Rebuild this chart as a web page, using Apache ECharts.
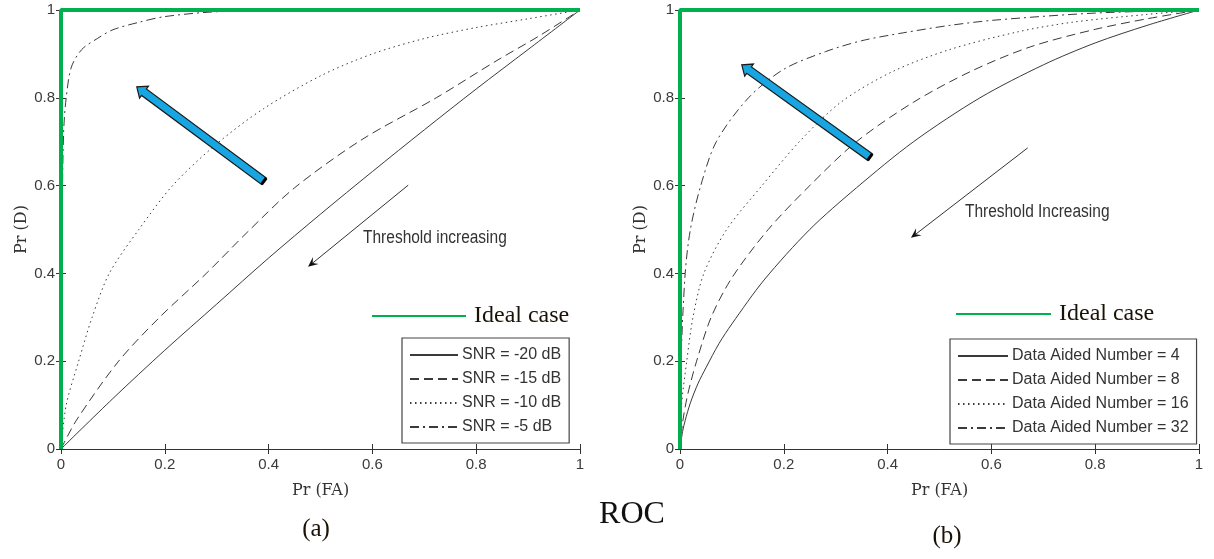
<!DOCTYPE html>
<html>
<head>
<meta charset="utf-8">
<script src="https://cdn.jsdelivr.net/npm/echarts@6/dist/echarts.min.js"></script>
<style>html,body{margin:0;padding:0;background:#fff;}#chart{width:1214px;height:559px;}</style>
</head>
<body>
<div id="chart"></div>
<script>
// ---------- data ----------
const ticks = [0, 0.2, 0.4, 0.6, 0.8, 1];
const idealCase = [[0, 0], [0, 1], [1, 1]];

// (a) SNR curves  [Pr(FA), Pr(D)]
const snrNames = ['SNR = -20 dB', 'SNR = -15 dB', 'SNR = -10 dB', 'SNR = -5 dB'];
const snrM20 = [[0,0],[0.1,0.115],[0.2,0.225],[0.3,0.33],[0.4,0.435],[0.5,0.535],[0.6,0.632],[0.7,0.727],[0.8,0.82],[0.9,0.91],[1,1]];
const snrM15 = [[0,0],[0.03,0.066],[0.111,0.2],[0.19,0.3],[0.28,0.4],[0.36,0.495],[0.45,0.595],[0.58,0.705],[0.723,0.8],[0.84,0.885],[0.92,0.94],[1,1]];
const snrM10 = [[0,0],[0.01,0.1],[0.034,0.2],[0.06,0.3],[0.093,0.4],[0.15,0.5],[0.215,0.6],[0.3,0.695],[0.39,0.775],[0.5,0.85],[0.6,0.9],[0.7,0.935],[0.8,0.96],[0.9,0.98],[1,1]];
const snrM5  = [[0,0],[0.002,0.5],[0.005,0.72],[0.01,0.8],[0.02,0.87],[0.04,0.91],[0.07,0.935],[0.1,0.955],[0.15,0.972],[0.2,0.985],[0.3,0.996],[0.5,1],[1,1]];

// (b) Data Aided Number curves
const danNames = ['Data Aided Number = 4', 'Data Aided Number = 8', 'Data Aided Number = 16', 'Data Aided Number = 32'];
const dan4  = [[0,0],[0.005,0.04],[0.01,0.065],[0.02,0.105],[0.035,0.15],[0.05,0.185],[0.075,0.24],[0.1,0.285],[0.162,0.385],[0.25,0.5],[0.34,0.595],[0.45,0.7],[0.578,0.8],[0.7,0.875],[0.8,0.925],[0.9,0.965],[1,1]];
const dan8  = [[0,0],[0.005,0.06],[0.015,0.125],[0.032,0.2],[0.06,0.3],[0.1,0.39],[0.17,0.5],[0.25,0.6],[0.34,0.7],[0.45,0.79],[0.56,0.86],[0.675,0.916],[0.8,0.956],[0.9,0.98],[1,1]];
const dan16 = [[0,0],[0.003,0.1],[0.013,0.2],[0.025,0.3],[0.046,0.4],[0.09,0.5],[0.158,0.6],[0.23,0.7],[0.31,0.79],[0.41,0.86],[0.52,0.91],[0.65,0.95],[0.755,0.972],[0.9,0.99],[1,1]];
const dan32 = [[0,0],[0.002,0.2],[0.01,0.4],[0.02,0.5],[0.04,0.6],[0.07,0.7],[0.132,0.8],[0.2,0.865],[0.28,0.905],[0.35,0.93],[0.43,0.948],[0.52,0.965],[0.607,0.977],[0.8,0.993],[1,1]];

// annotations (data coordinates): [x0, y0, x1(head), y1(head)]
const blueArrowA = [[0.391, 0.61, 0.146, 0.825]];
const blueArrowB = [[0.366, 0.665, 0.119, 0.875]];
const thinArrowA = [[0.669, 0.601, 0.476, 0.415]];
const thinArrowB = [[0.67, 0.686, 0.445, 0.481]];
const noteA = [[0.582, 0.48, 'Threshold increasing']];
const noteB = [[0.549, 0.54, 'Threshold Increasing']];

// ---------- styles ----------
const curveColor = '#3a3a3a';
const green = '#00b04f';
const dashTypes = ['solid', [9, 5], [1.5, 3.5], [9, 4, 2, 4]];
const sansFont = '"Liberation Sans", Arial, sans-serif';
const serif = '"Liberation Serif", "Times New Roman", serif';

function xAxes(grid) {
  const base = {
    type: 'value', gridIndex: grid, min: 0, max: 1, interval: 0.2,
    splitLine: { show: false },
    axisLine: { show: true, lineStyle: { color: '#333', width: 1 } },
    axisTick: { show: true, inside: true, length: 5, lineStyle: { color: '#333' } }
  };
  return [
    Object.assign({}, base, {
      position: 'bottom',
      axisLabel: { color: '#3a3a3a', fontFamily: sansFont, fontSize: 15, margin: 8 },
      name: 'Pr (FA)', nameLocation: 'middle', nameGap: 34,
      nameTextStyle: { fontFamily: '"DejaVu Serif", serif', fontSize: 16, color: '#333' }
    }),
    Object.assign({}, base, { position: 'top', axisLabel: { show: false } })
  ];
}
function yAxes(grid) {
  const base = {
    type: 'value', gridIndex: grid, min: 0, max: 1, interval: 0.2,
    splitLine: { show: false },
    axisLine: { show: true, lineStyle: { color: '#333', width: 1 } },
    axisTick: { show: true, inside: true, length: 5, lineStyle: { color: '#333' } }
  };
  return [
    Object.assign({}, base, {
      position: 'left',
      axisLabel: { color: '#3a3a3a', fontFamily: sansFont, fontSize: 15, margin: 6 },
      name: 'Pr (D)', nameLocation: 'middle', nameGap: 26,
      nameTextStyle: { fontFamily: '"DejaVu Serif", serif', fontSize: 16, color: '#333' }
    }),
    Object.assign({}, base, { position: 'right', axisLabel: { show: false } })
  ];
}

function curve(name, data, i, xi, yi) {
  return {
    type: 'line', name: name, data: data, xAxisIndex: xi, yAxisIndex: yi,
    symbol: 'none', smooth: 0.3, z: 3,
    lineStyle: { color: curveColor, width: 1, type: dashTypes[i] },
    itemStyle: { color: curveColor }
  };
}

function blueArrow(params, api) {
  const p0 = api.coord([api.value(0), api.value(1)]);
  const p1 = api.coord([api.value(2), api.value(3)]);
  const dx = p1[0] - p0[0], dy = p1[1] - p0[1];
  const L = Math.sqrt(dx * dx + dy * dy);
  const ux = dx / L, uy = dy / L, nx = -uy, ny = ux;
  const w = 4, hw = 7.5, hl = 9;
  const bx = p1[0] - ux * hl, by = p1[1] - uy * hl;
  const pts = [
    [p0[0] + nx * w, p0[1] + ny * w],
    [bx + nx * w, by + ny * w],
    [bx + nx * hw, by + ny * hw],
    p1,
    [bx - nx * hw, by - ny * hw],
    [bx - nx * w, by - ny * w],
    [p0[0] - nx * w, p0[1] - ny * w]
  ];
  return {
    type: 'group', children: [
      { type: 'polygon', shape: { points: pts }, style: { fill: '#18a6e2', stroke: '#1b1b1b', lineWidth: 1.2 } },
      { type: 'line', shape: { x1: p0[0] + nx * w, y1: p0[1] + ny * w, x2: p0[0] - nx * w, y2: p0[1] - ny * w }, style: { stroke: '#000', lineWidth: 3 } }
    ]
  };
}
function thinArrow(params, api) {
  const p0 = api.coord([api.value(0), api.value(1)]);
  const p1 = api.coord([api.value(2), api.value(3)]);
  const dx = p1[0] - p0[0], dy = p1[1] - p0[1];
  const L = Math.sqrt(dx * dx + dy * dy);
  const ux = dx / L, uy = dy / L, nx = -uy, ny = ux;
  const hl = 10, hw = 4.5, notch = 6;
  const bx = p1[0] - ux * hl, by = p1[1] - uy * hl;
  return {
    type: 'group', children: [
      { type: 'line', shape: { x1: p0[0], y1: p0[1], x2: p1[0] - ux * notch, y2: p1[1] - uy * notch }, style: { stroke: '#333', lineWidth: 1 } },
      { type: 'polygon', shape: { points: [p1, [bx + nx * hw, by + ny * hw], [p1[0] - ux * notch, p1[1] - uy * notch], [bx - nx * hw, by - ny * hw]] }, style: { fill: '#111' } }
    ]
  };
}
function noteText(params, api) {
  const p = api.coord([api.value(0), api.value(1)]);
  return {
    type: 'text', x: p[0], y: p[1], scaleX: 0.86,
    style: { text: String(api.value(2)), font: '18px ' + sansFont, fill: '#333', align: 'left', verticalAlign: 'middle' }
  };
}

const series = [];
[snrM20, snrM15, snrM10, snrM5].forEach((d, i) => series.push(curve(snrNames[i], d, i, 0, 0)));
[dan4, dan8, dan16, dan32].forEach((d, i) => series.push(curve(danNames[i], d, i, 2, 2)));
[0, 2].forEach(ax => series.push({
  type: 'line', name: 'Ideal case', data: idealCase, xAxisIndex: ax, yAxisIndex: ax,
  symbol: 'none', clip: false, z: 6,
  lineStyle: { color: green, width: 4 }, itemStyle: { color: green }
}));
[[blueArrowA, 0, blueArrow], [blueArrowB, 2, blueArrow], [thinArrowA, 0, thinArrow], [thinArrowB, 2, thinArrow], [noteA, 0, noteText], [noteB, 2, noteText]].forEach(s => series.push({
  type: 'custom', data: s[0], xAxisIndex: s[1], yAxisIndex: s[1], renderItem: s[2], z: 7, silent: true
}));

const boxLegend = {
  orient: 'vertical', selectedMode: false, backgroundColor: '#fff',
  borderColor: '#444', borderWidth: 1.2, itemGap: 8, itemHeight: 16,
  itemStyle: { opacity: 0 },
  textStyle: { fontFamily: sansFont, fontSize: 16, color: '#333', padding: [0, 0, 0, -1] }
};
const idealLegend = {
  orient: 'vertical', selectedMode: false, data: ['Ideal case'], padding: 0,
  itemHeight: 14, itemStyle: { opacity: 0 },
  textStyle: { fontFamily: serif, fontSize: 24, color: '#1a1206', padding: [0, 0, 0, 3] }
};

const option = {
  backgroundColor: '#fff',
  animation: false,
  grid: [
    { left: 61, top: 10, width: 519, height: 439, show: false },
    { left: 680, top: 10, width: 519, height: 439, show: false }
  ],
  xAxis: [].concat(xAxes(0), xAxes(1)),
  yAxis: [].concat(yAxes(0), yAxes(1)),
  legend: [
    Object.assign({}, boxLegend, { data: snrNames, left: 402, top: 338, itemWidth: 48, padding: [9, 8, 8, 7] }),
    Object.assign({}, boxLegend, { data: danNames, left: 950, top: 339, itemWidth: 50, padding: [9, 8, 8, 7] }),
    Object.assign({}, idealLegend, { left: 371, top: 304, itemWidth: 94 }),
    Object.assign({}, idealLegend, { left: 955, top: 302, itemWidth: 95 })
  ],
  graphic: [
    { type: 'text', x: 316, y: 529, style: { text: '(a)', font: '25px ' + serif, fill: '#1a1206', align: 'center', verticalAlign: 'middle' } },
    { type: 'text', x: 947, y: 536, style: { text: '(b)', font: '25px ' + serif, fill: '#1a1206', align: 'center', verticalAlign: 'middle' } },
    { type: 'text', x: 632, y: 515, style: { text: 'ROC', font: '32px ' + serif, fill: '#111', align: 'center', verticalAlign: 'middle' } }
  ],
  series: series
};

const chart = echarts.init(document.getElementById('chart'), null, { renderer: 'canvas' });
chart.setOption(option);
</script>
</body>
</html>
